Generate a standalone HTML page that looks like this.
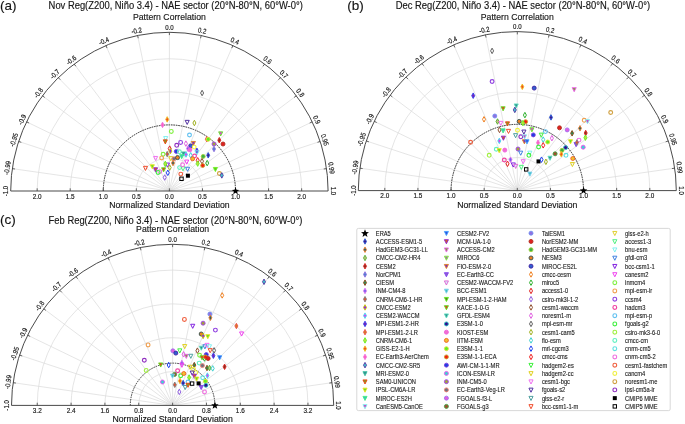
<!DOCTYPE html>
<html><head><meta charset="utf-8"><style>
html,body{margin:0;padding:0;background:#fff;}
svg{display:block;will-change:transform;}
text{font-family:"Liberation Sans", sans-serif;stroke:#222;stroke-width:0.14px;}
.lg{stroke:#333;stroke-width:0.1px;}
</style></head><body>
<svg width="685" height="424" viewBox="0 0 685 424">
<rect width="685" height="424" fill="#fff"/>
<path d="M136.34,191 A33.06,33.06 0 0 1 202.46,191" fill="none" stroke="#dadada" stroke-width="0.7"/>
<path d="M103.28,191 A66.12,66.12 0 0 1 235.53,191" fill="none" stroke="#dadada" stroke-width="0.7"/>
<path d="M70.21,191 A99.19,99.19 0 0 1 268.59,191" fill="none" stroke="#dadada" stroke-width="0.7"/>
<path d="M37.15,191 A132.25,132.25 0 0 1 301.65,191" fill="none" stroke="#dadada" stroke-width="0.7"/>
<line x1="169.4" y1="191" x2="12.29" y2="168.61" stroke="#dadada" stroke-width="0.7"/>
<line x1="169.4" y1="191" x2="18.64" y2="141.45" stroke="#dadada" stroke-width="0.7"/>
<line x1="169.4" y1="191" x2="26.57" y2="121.82" stroke="#dadada" stroke-width="0.7"/>
<line x1="169.4" y1="191" x2="42.44" y2="95.78" stroke="#dadada" stroke-width="0.7"/>
<line x1="169.4" y1="191" x2="58.31" y2="77.67" stroke="#dadada" stroke-width="0.7"/>
<line x1="169.4" y1="191" x2="74.18" y2="64.04" stroke="#dadada" stroke-width="0.7"/>
<line x1="169.4" y1="191" x2="105.92" y2="45.55" stroke="#dadada" stroke-width="0.7"/>
<line x1="169.4" y1="191" x2="137.66" y2="35.51" stroke="#dadada" stroke-width="0.7"/>
<line x1="169.4" y1="191" x2="169.40" y2="32.30" stroke="#dadada" stroke-width="0.7"/>
<line x1="169.4" y1="191" x2="201.14" y2="35.51" stroke="#dadada" stroke-width="0.7"/>
<line x1="169.4" y1="191" x2="232.88" y2="45.55" stroke="#dadada" stroke-width="0.7"/>
<line x1="169.4" y1="191" x2="264.62" y2="64.04" stroke="#dadada" stroke-width="0.7"/>
<line x1="169.4" y1="191" x2="280.49" y2="77.67" stroke="#dadada" stroke-width="0.7"/>
<line x1="169.4" y1="191" x2="296.36" y2="95.78" stroke="#dadada" stroke-width="0.7"/>
<line x1="169.4" y1="191" x2="312.23" y2="121.82" stroke="#dadada" stroke-width="0.7"/>
<line x1="169.4" y1="191" x2="320.16" y2="141.45" stroke="#dadada" stroke-width="0.7"/>
<line x1="169.4" y1="191" x2="326.51" y2="168.61" stroke="#dadada" stroke-width="0.7"/>
<path d="M103.28,191 A66.12,66.12 0 0 1 235.53,191" fill="none" stroke="#2a2a2a" stroke-width="0.95" stroke-dasharray="1.5,0.95"/>
<path d="M10.70,191 A158.70,158.70 0 0 1 328.10,191 Z" fill="none" stroke="#404040" stroke-width="0.95"/>
<line x1="12.29" y1="168.61" x2="15.06" y2="169.01" stroke="#404040" stroke-width="0.8"/>
<line x1="18.64" y1="141.45" x2="21.30" y2="142.32" stroke="#404040" stroke-width="0.8"/>
<line x1="26.57" y1="121.82" x2="29.09" y2="123.04" stroke="#404040" stroke-width="0.8"/>
<line x1="42.44" y1="95.78" x2="44.68" y2="97.46" stroke="#404040" stroke-width="0.8"/>
<line x1="58.31" y1="77.67" x2="60.27" y2="79.67" stroke="#404040" stroke-width="0.8"/>
<line x1="74.18" y1="64.04" x2="75.86" y2="66.28" stroke="#404040" stroke-width="0.8"/>
<line x1="105.92" y1="45.55" x2="107.04" y2="48.12" stroke="#404040" stroke-width="0.8"/>
<line x1="137.66" y1="35.51" x2="138.22" y2="38.25" stroke="#404040" stroke-width="0.8"/>
<line x1="169.40" y1="32.30" x2="169.40" y2="35.10" stroke="#404040" stroke-width="0.8"/>
<line x1="201.14" y1="35.51" x2="200.58" y2="38.25" stroke="#404040" stroke-width="0.8"/>
<line x1="232.88" y1="45.55" x2="231.76" y2="48.12" stroke="#404040" stroke-width="0.8"/>
<line x1="264.62" y1="64.04" x2="262.94" y2="66.28" stroke="#404040" stroke-width="0.8"/>
<line x1="280.49" y1="77.67" x2="278.53" y2="79.67" stroke="#404040" stroke-width="0.8"/>
<line x1="296.36" y1="95.78" x2="294.12" y2="97.46" stroke="#404040" stroke-width="0.8"/>
<line x1="312.23" y1="121.82" x2="309.71" y2="123.04" stroke="#404040" stroke-width="0.8"/>
<line x1="320.16" y1="141.45" x2="317.50" y2="142.32" stroke="#404040" stroke-width="0.8"/>
<line x1="326.51" y1="168.61" x2="323.74" y2="169.01" stroke="#404040" stroke-width="0.8"/>
<text transform="translate(5.50,191.00) rotate(-90.00) scale(1,1.15)" text-anchor="middle" font-size="6.1" fill="#111" dominant-baseline="central">-1.0</text>
<text transform="translate(7.14,167.88) rotate(-81.89) scale(1,1.15)" text-anchor="middle" font-size="6.1" fill="#111" dominant-baseline="central">-0.99</text>
<text transform="translate(13.70,139.82) rotate(-71.81) scale(1,1.15)" text-anchor="middle" font-size="6.1" fill="#111" dominant-baseline="central">-0.95</text>
<text transform="translate(21.89,119.56) rotate(-64.16) scale(1,1.15)" text-anchor="middle" font-size="6.1" fill="#111" dominant-baseline="central">-0.9</text>
<text transform="translate(38.28,92.66) rotate(-53.13) scale(1,1.15)" text-anchor="middle" font-size="6.1" fill="#111" dominant-baseline="central">-0.8</text>
<text transform="translate(54.67,73.95) rotate(-44.43) scale(1,1.15)" text-anchor="middle" font-size="6.1" fill="#111" dominant-baseline="central">-0.7</text>
<text transform="translate(71.06,59.88) rotate(-36.87) scale(1,1.15)" text-anchor="middle" font-size="6.1" fill="#111" dominant-baseline="central">-0.6</text>
<text transform="translate(103.84,40.78) rotate(-23.58) scale(1,1.15)" text-anchor="middle" font-size="6.1" fill="#111" dominant-baseline="central">-0.4</text>
<text transform="translate(136.62,30.41) rotate(-11.54) scale(1,1.15)" text-anchor="middle" font-size="6.1" fill="#111" dominant-baseline="central">-0.2</text>
<text transform="translate(169.40,27.10) scale(1,1.15)" text-anchor="middle" font-size="6.1" fill="#111" dominant-baseline="central">0.0</text>
<text transform="translate(202.18,30.41) rotate(11.54) scale(1,1.15)" text-anchor="middle" font-size="6.1" fill="#111" dominant-baseline="central">0.2</text>
<text transform="translate(234.96,40.78) rotate(23.58) scale(1,1.15)" text-anchor="middle" font-size="6.1" fill="#111" dominant-baseline="central">0.4</text>
<text transform="translate(267.74,59.88) rotate(36.87) scale(1,1.15)" text-anchor="middle" font-size="6.1" fill="#111" dominant-baseline="central">0.6</text>
<text transform="translate(284.13,73.95) rotate(44.43) scale(1,1.15)" text-anchor="middle" font-size="6.1" fill="#111" dominant-baseline="central">0.7</text>
<text transform="translate(300.52,92.66) rotate(53.13) scale(1,1.15)" text-anchor="middle" font-size="6.1" fill="#111" dominant-baseline="central">0.8</text>
<text transform="translate(316.91,119.56) rotate(64.16) scale(1,1.15)" text-anchor="middle" font-size="6.1" fill="#111" dominant-baseline="central">0.9</text>
<text transform="translate(325.11,139.82) rotate(71.81) scale(1,1.15)" text-anchor="middle" font-size="6.1" fill="#111" dominant-baseline="central">0.95</text>
<text transform="translate(331.66,167.88) rotate(81.89) scale(1,1.15)" text-anchor="middle" font-size="6.1" fill="#111" dominant-baseline="central">0.99</text>
<text transform="translate(333.30,191.00) rotate(90.00) scale(1,1.15)" text-anchor="middle" font-size="6.1" fill="#111" dominant-baseline="central">1.0</text>
<line x1="37.15" y1="191" x2="37.15" y2="188.3" stroke="#404040" stroke-width="0.8"/>
<text transform="translate(37.15,198.80) scale(1,1.17)" text-anchor="middle" font-size="6.4" fill="#111">2.0</text>
<line x1="70.21" y1="191" x2="70.21" y2="188.3" stroke="#404040" stroke-width="0.8"/>
<text transform="translate(70.21,198.80) scale(1,1.17)" text-anchor="middle" font-size="6.4" fill="#111">1.5</text>
<line x1="103.28" y1="191" x2="103.28" y2="188.3" stroke="#404040" stroke-width="0.8"/>
<text transform="translate(103.28,198.80) scale(1,1.17)" text-anchor="middle" font-size="6.4" fill="#111">1.0</text>
<line x1="136.34" y1="191" x2="136.34" y2="188.3" stroke="#404040" stroke-width="0.8"/>
<text transform="translate(136.34,198.80) scale(1,1.17)" text-anchor="middle" font-size="6.4" fill="#111">0.5</text>
<line x1="169.40" y1="191" x2="169.40" y2="188.3" stroke="#404040" stroke-width="0.8"/>
<text transform="translate(169.40,198.80) scale(1,1.17)" text-anchor="middle" font-size="6.4" fill="#111">0.0</text>
<line x1="202.46" y1="191" x2="202.46" y2="188.3" stroke="#404040" stroke-width="0.8"/>
<text transform="translate(202.46,198.80) scale(1,1.17)" text-anchor="middle" font-size="6.4" fill="#111">0.5</text>
<line x1="235.53" y1="191" x2="235.53" y2="188.3" stroke="#404040" stroke-width="0.8"/>
<text transform="translate(235.53,198.80) scale(1,1.17)" text-anchor="middle" font-size="6.4" fill="#111">1.0</text>
<line x1="268.59" y1="191" x2="268.59" y2="188.3" stroke="#404040" stroke-width="0.8"/>
<text transform="translate(268.59,198.80) scale(1,1.17)" text-anchor="middle" font-size="6.4" fill="#111">1.5</text>
<line x1="301.65" y1="191" x2="301.65" y2="188.3" stroke="#404040" stroke-width="0.8"/>
<text transform="translate(301.65,198.80) scale(1,1.17)" text-anchor="middle" font-size="6.4" fill="#111">2.0</text>
<polygon points="235.53,187.15 236.50,189.76 239.28,189.88 237.10,191.61 237.85,194.30 235.53,192.76 233.20,194.30 233.95,191.61 231.77,189.88 234.55,189.76" fill="#000"/>
<text transform="translate(169.40,208.20) scale(1,1.08)" text-anchor="middle" font-size="8.7" fill="#111">Normalized Standard Deviation</text>
<text transform="translate(169.40,20.00) scale(1,1.08)" text-anchor="middle" font-size="8.7" fill="#111">Pattern Correlation</text>
<text transform="translate(48.60,9.30) scale(1,1.07)" font-size="9.4" fill="#111">Nov Reg(Z200, Niño 3.4) - NAE sector (20°N-80°N, 60°W-0°)</text>
<text transform="translate(0.00,10.40)" font-size="13.5" fill="#111">(a)</text>
<path d="M484.17,190.6 A33.12,33.12 0 0 1 550.42,190.6" fill="none" stroke="#dadada" stroke-width="0.7"/>
<path d="M451.05,190.6 A66.25,66.25 0 0 1 583.55,190.6" fill="none" stroke="#dadada" stroke-width="0.7"/>
<path d="M417.92,190.6 A99.38,99.38 0 0 1 616.67,190.6" fill="none" stroke="#dadada" stroke-width="0.7"/>
<path d="M384.80,190.6 A132.50,132.50 0 0 1 649.80,190.6" fill="none" stroke="#dadada" stroke-width="0.7"/>
<line x1="517.3" y1="190.6" x2="359.89" y2="168.17" stroke="#dadada" stroke-width="0.7"/>
<line x1="517.3" y1="190.6" x2="366.25" y2="140.95" stroke="#dadada" stroke-width="0.7"/>
<line x1="517.3" y1="190.6" x2="374.20" y2="121.29" stroke="#dadada" stroke-width="0.7"/>
<line x1="517.3" y1="190.6" x2="390.10" y2="95.20" stroke="#dadada" stroke-width="0.7"/>
<line x1="517.3" y1="190.6" x2="406.00" y2="77.05" stroke="#dadada" stroke-width="0.7"/>
<line x1="517.3" y1="190.6" x2="421.90" y2="63.40" stroke="#dadada" stroke-width="0.7"/>
<line x1="517.3" y1="190.6" x2="453.70" y2="44.87" stroke="#dadada" stroke-width="0.7"/>
<line x1="517.3" y1="190.6" x2="485.50" y2="34.81" stroke="#dadada" stroke-width="0.7"/>
<line x1="517.3" y1="190.6" x2="517.30" y2="31.60" stroke="#dadada" stroke-width="0.7"/>
<line x1="517.3" y1="190.6" x2="549.10" y2="34.81" stroke="#dadada" stroke-width="0.7"/>
<line x1="517.3" y1="190.6" x2="580.90" y2="44.87" stroke="#dadada" stroke-width="0.7"/>
<line x1="517.3" y1="190.6" x2="612.70" y2="63.40" stroke="#dadada" stroke-width="0.7"/>
<line x1="517.3" y1="190.6" x2="628.60" y2="77.05" stroke="#dadada" stroke-width="0.7"/>
<line x1="517.3" y1="190.6" x2="644.50" y2="95.20" stroke="#dadada" stroke-width="0.7"/>
<line x1="517.3" y1="190.6" x2="660.40" y2="121.29" stroke="#dadada" stroke-width="0.7"/>
<line x1="517.3" y1="190.6" x2="668.35" y2="140.95" stroke="#dadada" stroke-width="0.7"/>
<line x1="517.3" y1="190.6" x2="674.71" y2="168.17" stroke="#dadada" stroke-width="0.7"/>
<path d="M451.05,190.6 A66.25,66.25 0 0 1 583.55,190.6" fill="none" stroke="#2a2a2a" stroke-width="0.95" stroke-dasharray="1.5,0.95"/>
<path d="M358.30,190.6 A159.00,159.00 0 0 1 676.30,190.6 Z" fill="none" stroke="#404040" stroke-width="0.95"/>
<line x1="359.89" y1="168.17" x2="362.66" y2="168.57" stroke="#404040" stroke-width="0.8"/>
<line x1="366.25" y1="140.95" x2="368.91" y2="141.83" stroke="#404040" stroke-width="0.8"/>
<line x1="374.20" y1="121.29" x2="376.72" y2="122.51" stroke="#404040" stroke-width="0.8"/>
<line x1="390.10" y1="95.20" x2="392.34" y2="96.88" stroke="#404040" stroke-width="0.8"/>
<line x1="406.00" y1="77.05" x2="407.96" y2="79.05" stroke="#404040" stroke-width="0.8"/>
<line x1="421.90" y1="63.40" x2="423.58" y2="65.64" stroke="#404040" stroke-width="0.8"/>
<line x1="453.70" y1="44.87" x2="454.82" y2="47.44" stroke="#404040" stroke-width="0.8"/>
<line x1="485.50" y1="34.81" x2="486.06" y2="37.56" stroke="#404040" stroke-width="0.8"/>
<line x1="517.30" y1="31.60" x2="517.30" y2="34.40" stroke="#404040" stroke-width="0.8"/>
<line x1="549.10" y1="34.81" x2="548.54" y2="37.56" stroke="#404040" stroke-width="0.8"/>
<line x1="580.90" y1="44.87" x2="579.78" y2="47.44" stroke="#404040" stroke-width="0.8"/>
<line x1="612.70" y1="63.40" x2="611.02" y2="65.64" stroke="#404040" stroke-width="0.8"/>
<line x1="628.60" y1="77.05" x2="626.64" y2="79.05" stroke="#404040" stroke-width="0.8"/>
<line x1="644.50" y1="95.20" x2="642.26" y2="96.88" stroke="#404040" stroke-width="0.8"/>
<line x1="660.40" y1="121.29" x2="657.88" y2="122.51" stroke="#404040" stroke-width="0.8"/>
<line x1="668.35" y1="140.95" x2="665.69" y2="141.83" stroke="#404040" stroke-width="0.8"/>
<line x1="674.71" y1="168.17" x2="671.94" y2="168.57" stroke="#404040" stroke-width="0.8"/>
<text transform="translate(353.10,190.60) rotate(-90.00) scale(1,1.15)" text-anchor="middle" font-size="6.1" fill="#111" dominant-baseline="central">-1.0</text>
<text transform="translate(354.74,167.44) rotate(-81.89) scale(1,1.15)" text-anchor="middle" font-size="6.1" fill="#111" dominant-baseline="central">-0.99</text>
<text transform="translate(361.31,139.33) rotate(-71.81) scale(1,1.15)" text-anchor="middle" font-size="6.1" fill="#111" dominant-baseline="central">-0.95</text>
<text transform="translate(369.52,119.03) rotate(-64.16) scale(1,1.15)" text-anchor="middle" font-size="6.1" fill="#111" dominant-baseline="central">-0.9</text>
<text transform="translate(385.94,92.08) rotate(-53.13) scale(1,1.15)" text-anchor="middle" font-size="6.1" fill="#111" dominant-baseline="central">-0.8</text>
<text transform="translate(402.36,73.34) rotate(-44.43) scale(1,1.15)" text-anchor="middle" font-size="6.1" fill="#111" dominant-baseline="central">-0.7</text>
<text transform="translate(418.78,59.24) rotate(-36.87) scale(1,1.15)" text-anchor="middle" font-size="6.1" fill="#111" dominant-baseline="central">-0.6</text>
<text transform="translate(451.62,40.11) rotate(-23.58) scale(1,1.15)" text-anchor="middle" font-size="6.1" fill="#111" dominant-baseline="central">-0.4</text>
<text transform="translate(484.46,29.72) rotate(-11.54) scale(1,1.15)" text-anchor="middle" font-size="6.1" fill="#111" dominant-baseline="central">-0.2</text>
<text transform="translate(517.30,26.40) scale(1,1.15)" text-anchor="middle" font-size="6.1" fill="#111" dominant-baseline="central">0.0</text>
<text transform="translate(550.14,29.72) rotate(11.54) scale(1,1.15)" text-anchor="middle" font-size="6.1" fill="#111" dominant-baseline="central">0.2</text>
<text transform="translate(582.98,40.11) rotate(23.58) scale(1,1.15)" text-anchor="middle" font-size="6.1" fill="#111" dominant-baseline="central">0.4</text>
<text transform="translate(615.82,59.24) rotate(36.87) scale(1,1.15)" text-anchor="middle" font-size="6.1" fill="#111" dominant-baseline="central">0.6</text>
<text transform="translate(632.24,73.34) rotate(44.43) scale(1,1.15)" text-anchor="middle" font-size="6.1" fill="#111" dominant-baseline="central">0.7</text>
<text transform="translate(648.66,92.08) rotate(53.13) scale(1,1.15)" text-anchor="middle" font-size="6.1" fill="#111" dominant-baseline="central">0.8</text>
<text transform="translate(665.08,119.03) rotate(64.16) scale(1,1.15)" text-anchor="middle" font-size="6.1" fill="#111" dominant-baseline="central">0.9</text>
<text transform="translate(673.29,139.33) rotate(71.81) scale(1,1.15)" text-anchor="middle" font-size="6.1" fill="#111" dominant-baseline="central">0.95</text>
<text transform="translate(679.86,167.44) rotate(81.89) scale(1,1.15)" text-anchor="middle" font-size="6.1" fill="#111" dominant-baseline="central">0.99</text>
<text transform="translate(681.50,190.60) rotate(90.00) scale(1,1.15)" text-anchor="middle" font-size="6.1" fill="#111" dominant-baseline="central">1.0</text>
<line x1="384.80" y1="190.6" x2="384.80" y2="187.9" stroke="#404040" stroke-width="0.8"/>
<text transform="translate(384.80,198.40) scale(1,1.17)" text-anchor="middle" font-size="6.4" fill="#111">2.0</text>
<line x1="417.92" y1="190.6" x2="417.92" y2="187.9" stroke="#404040" stroke-width="0.8"/>
<text transform="translate(417.92,198.40) scale(1,1.17)" text-anchor="middle" font-size="6.4" fill="#111">1.5</text>
<line x1="451.05" y1="190.6" x2="451.05" y2="187.9" stroke="#404040" stroke-width="0.8"/>
<text transform="translate(451.05,198.40) scale(1,1.17)" text-anchor="middle" font-size="6.4" fill="#111">1.0</text>
<line x1="484.17" y1="190.6" x2="484.17" y2="187.9" stroke="#404040" stroke-width="0.8"/>
<text transform="translate(484.17,198.40) scale(1,1.17)" text-anchor="middle" font-size="6.4" fill="#111">0.5</text>
<line x1="517.30" y1="190.6" x2="517.30" y2="187.9" stroke="#404040" stroke-width="0.8"/>
<text transform="translate(517.30,198.40) scale(1,1.17)" text-anchor="middle" font-size="6.4" fill="#111">0.0</text>
<line x1="550.42" y1="190.6" x2="550.42" y2="187.9" stroke="#404040" stroke-width="0.8"/>
<text transform="translate(550.42,198.40) scale(1,1.17)" text-anchor="middle" font-size="6.4" fill="#111">0.5</text>
<line x1="583.55" y1="190.6" x2="583.55" y2="187.9" stroke="#404040" stroke-width="0.8"/>
<text transform="translate(583.55,198.40) scale(1,1.17)" text-anchor="middle" font-size="6.4" fill="#111">1.0</text>
<line x1="616.67" y1="190.6" x2="616.67" y2="187.9" stroke="#404040" stroke-width="0.8"/>
<text transform="translate(616.67,198.40) scale(1,1.17)" text-anchor="middle" font-size="6.4" fill="#111">1.5</text>
<line x1="649.80" y1="190.6" x2="649.80" y2="187.9" stroke="#404040" stroke-width="0.8"/>
<text transform="translate(649.80,198.40) scale(1,1.17)" text-anchor="middle" font-size="6.4" fill="#111">2.0</text>
<polygon points="583.55,186.75 584.53,189.36 587.31,189.48 585.13,191.21 585.87,193.90 583.55,192.36 581.23,193.90 581.97,191.21 579.79,189.48 582.57,189.36" fill="#000"/>
<text transform="translate(517.30,208.20) scale(1,1.08)" text-anchor="middle" font-size="8.7" fill="#111">Normalized Standard Deviation</text>
<text transform="translate(517.30,20.00) scale(1,1.08)" text-anchor="middle" font-size="8.7" fill="#111">Pattern Correlation</text>
<text transform="translate(395.80,9.30) scale(1,1.07)" font-size="9.4" fill="#111">Dec Reg(Z200, Niño 3.4) - NAE sector (20°N-80°N, 60°W-0°)</text>
<text transform="translate(347.20,10.40)" font-size="13.5" fill="#111">(b)</text>
<path d="M138.76,405.4 A33.84,33.84 0 0 1 206.44,405.4" fill="none" stroke="#dadada" stroke-width="0.7"/>
<path d="M104.92,405.4 A67.68,67.68 0 0 1 240.28,405.4" fill="none" stroke="#dadada" stroke-width="0.7"/>
<path d="M71.08,405.4 A101.52,101.52 0 0 1 274.12,405.4" fill="none" stroke="#dadada" stroke-width="0.7"/>
<path d="M37.24,405.4 A135.36,135.36 0 0 1 307.96,405.4" fill="none" stroke="#dadada" stroke-width="0.7"/>
<line x1="172.6" y1="405.4" x2="13.11" y2="382.67" stroke="#dadada" stroke-width="0.7"/>
<line x1="172.6" y1="405.4" x2="19.56" y2="355.10" stroke="#dadada" stroke-width="0.7"/>
<line x1="172.6" y1="405.4" x2="27.61" y2="335.18" stroke="#dadada" stroke-width="0.7"/>
<line x1="172.6" y1="405.4" x2="43.72" y2="308.74" stroke="#dadada" stroke-width="0.7"/>
<line x1="172.6" y1="405.4" x2="59.83" y2="290.35" stroke="#dadada" stroke-width="0.7"/>
<line x1="172.6" y1="405.4" x2="75.94" y2="276.52" stroke="#dadada" stroke-width="0.7"/>
<line x1="172.6" y1="405.4" x2="108.16" y2="257.75" stroke="#dadada" stroke-width="0.7"/>
<line x1="172.6" y1="405.4" x2="140.38" y2="247.55" stroke="#dadada" stroke-width="0.7"/>
<line x1="172.6" y1="405.4" x2="172.60" y2="244.30" stroke="#dadada" stroke-width="0.7"/>
<line x1="172.6" y1="405.4" x2="204.82" y2="247.55" stroke="#dadada" stroke-width="0.7"/>
<line x1="172.6" y1="405.4" x2="237.04" y2="257.75" stroke="#dadada" stroke-width="0.7"/>
<line x1="172.6" y1="405.4" x2="269.26" y2="276.52" stroke="#dadada" stroke-width="0.7"/>
<line x1="172.6" y1="405.4" x2="285.37" y2="290.35" stroke="#dadada" stroke-width="0.7"/>
<line x1="172.6" y1="405.4" x2="301.48" y2="308.74" stroke="#dadada" stroke-width="0.7"/>
<line x1="172.6" y1="405.4" x2="317.59" y2="335.18" stroke="#dadada" stroke-width="0.7"/>
<line x1="172.6" y1="405.4" x2="325.64" y2="355.10" stroke="#dadada" stroke-width="0.7"/>
<line x1="172.6" y1="405.4" x2="332.09" y2="382.67" stroke="#dadada" stroke-width="0.7"/>
<path d="M130.30,405.4 A42.30,42.30 0 0 1 214.90,405.4" fill="none" stroke="#2a2a2a" stroke-width="0.95" stroke-dasharray="1.5,0.95"/>
<path d="M11.50,405.4 A161.10,161.10 0 0 1 333.70,405.4 Z" fill="none" stroke="#404040" stroke-width="0.95"/>
<line x1="13.11" y1="382.67" x2="15.88" y2="383.07" stroke="#404040" stroke-width="0.8"/>
<line x1="19.56" y1="355.10" x2="22.22" y2="355.97" stroke="#404040" stroke-width="0.8"/>
<line x1="27.61" y1="335.18" x2="30.13" y2="336.40" stroke="#404040" stroke-width="0.8"/>
<line x1="43.72" y1="308.74" x2="45.96" y2="310.42" stroke="#404040" stroke-width="0.8"/>
<line x1="59.83" y1="290.35" x2="61.79" y2="292.35" stroke="#404040" stroke-width="0.8"/>
<line x1="75.94" y1="276.52" x2="77.62" y2="278.76" stroke="#404040" stroke-width="0.8"/>
<line x1="108.16" y1="257.75" x2="109.28" y2="260.32" stroke="#404040" stroke-width="0.8"/>
<line x1="140.38" y1="247.55" x2="140.94" y2="250.30" stroke="#404040" stroke-width="0.8"/>
<line x1="172.60" y1="244.30" x2="172.60" y2="247.10" stroke="#404040" stroke-width="0.8"/>
<line x1="204.82" y1="247.55" x2="204.26" y2="250.30" stroke="#404040" stroke-width="0.8"/>
<line x1="237.04" y1="257.75" x2="235.92" y2="260.32" stroke="#404040" stroke-width="0.8"/>
<line x1="269.26" y1="276.52" x2="267.58" y2="278.76" stroke="#404040" stroke-width="0.8"/>
<line x1="285.37" y1="290.35" x2="283.41" y2="292.35" stroke="#404040" stroke-width="0.8"/>
<line x1="301.48" y1="308.74" x2="299.24" y2="310.42" stroke="#404040" stroke-width="0.8"/>
<line x1="317.59" y1="335.18" x2="315.07" y2="336.40" stroke="#404040" stroke-width="0.8"/>
<line x1="325.64" y1="355.10" x2="322.99" y2="355.97" stroke="#404040" stroke-width="0.8"/>
<line x1="332.09" y1="382.67" x2="329.32" y2="383.07" stroke="#404040" stroke-width="0.8"/>
<text transform="translate(6.30,405.40) rotate(-90.00) scale(1,1.15)" text-anchor="middle" font-size="6.1" fill="#111" dominant-baseline="central">-1.0</text>
<text transform="translate(7.96,381.94) rotate(-81.89) scale(1,1.15)" text-anchor="middle" font-size="6.1" fill="#111" dominant-baseline="central">-0.99</text>
<text transform="translate(14.62,353.47) rotate(-71.81) scale(1,1.15)" text-anchor="middle" font-size="6.1" fill="#111" dominant-baseline="central">-0.95</text>
<text transform="translate(22.93,332.91) rotate(-64.16) scale(1,1.15)" text-anchor="middle" font-size="6.1" fill="#111" dominant-baseline="central">-0.9</text>
<text transform="translate(39.56,305.62) rotate(-53.13) scale(1,1.15)" text-anchor="middle" font-size="6.1" fill="#111" dominant-baseline="central">-0.8</text>
<text transform="translate(56.19,286.64) rotate(-44.43) scale(1,1.15)" text-anchor="middle" font-size="6.1" fill="#111" dominant-baseline="central">-0.7</text>
<text transform="translate(72.82,272.36) rotate(-36.87) scale(1,1.15)" text-anchor="middle" font-size="6.1" fill="#111" dominant-baseline="central">-0.6</text>
<text transform="translate(106.08,252.98) rotate(-23.58) scale(1,1.15)" text-anchor="middle" font-size="6.1" fill="#111" dominant-baseline="central">-0.4</text>
<text transform="translate(139.34,242.46) rotate(-11.54) scale(1,1.15)" text-anchor="middle" font-size="6.1" fill="#111" dominant-baseline="central">-0.2</text>
<text transform="translate(172.60,239.10) scale(1,1.15)" text-anchor="middle" font-size="6.1" fill="#111" dominant-baseline="central">0.0</text>
<text transform="translate(205.86,242.46) rotate(11.54) scale(1,1.15)" text-anchor="middle" font-size="6.1" fill="#111" dominant-baseline="central">0.2</text>
<text transform="translate(239.12,252.98) rotate(23.58) scale(1,1.15)" text-anchor="middle" font-size="6.1" fill="#111" dominant-baseline="central">0.4</text>
<text transform="translate(272.38,272.36) rotate(36.87) scale(1,1.15)" text-anchor="middle" font-size="6.1" fill="#111" dominant-baseline="central">0.6</text>
<text transform="translate(289.01,286.64) rotate(44.43) scale(1,1.15)" text-anchor="middle" font-size="6.1" fill="#111" dominant-baseline="central">0.7</text>
<text transform="translate(305.64,305.62) rotate(53.13) scale(1,1.15)" text-anchor="middle" font-size="6.1" fill="#111" dominant-baseline="central">0.8</text>
<text transform="translate(322.27,332.91) rotate(64.16) scale(1,1.15)" text-anchor="middle" font-size="6.1" fill="#111" dominant-baseline="central">0.9</text>
<text transform="translate(330.58,353.47) rotate(71.81) scale(1,1.15)" text-anchor="middle" font-size="6.1" fill="#111" dominant-baseline="central">0.95</text>
<text transform="translate(337.24,381.94) rotate(81.89) scale(1,1.15)" text-anchor="middle" font-size="6.1" fill="#111" dominant-baseline="central">0.99</text>
<text transform="translate(338.90,405.40) rotate(90.00) scale(1,1.15)" text-anchor="middle" font-size="6.1" fill="#111" dominant-baseline="central">1.0</text>
<line x1="37.24" y1="405.4" x2="37.24" y2="402.7" stroke="#404040" stroke-width="0.8"/>
<text transform="translate(37.24,413.20) scale(1,1.17)" text-anchor="middle" font-size="6.4" fill="#111">3.2</text>
<line x1="71.08" y1="405.4" x2="71.08" y2="402.7" stroke="#404040" stroke-width="0.8"/>
<text transform="translate(71.08,413.20) scale(1,1.17)" text-anchor="middle" font-size="6.4" fill="#111">2.4</text>
<line x1="104.92" y1="405.4" x2="104.92" y2="402.7" stroke="#404040" stroke-width="0.8"/>
<text transform="translate(104.92,413.20) scale(1,1.17)" text-anchor="middle" font-size="6.4" fill="#111">1.6</text>
<line x1="138.76" y1="405.4" x2="138.76" y2="402.7" stroke="#404040" stroke-width="0.8"/>
<text transform="translate(138.76,413.20) scale(1,1.17)" text-anchor="middle" font-size="6.4" fill="#111">0.8</text>
<line x1="172.60" y1="405.4" x2="172.60" y2="402.7" stroke="#404040" stroke-width="0.8"/>
<text transform="translate(172.60,413.20) scale(1,1.17)" text-anchor="middle" font-size="6.4" fill="#111">0.0</text>
<line x1="206.44" y1="405.4" x2="206.44" y2="402.7" stroke="#404040" stroke-width="0.8"/>
<text transform="translate(206.44,413.20) scale(1,1.17)" text-anchor="middle" font-size="6.4" fill="#111">0.8</text>
<line x1="240.28" y1="405.4" x2="240.28" y2="402.7" stroke="#404040" stroke-width="0.8"/>
<text transform="translate(240.28,413.20) scale(1,1.17)" text-anchor="middle" font-size="6.4" fill="#111">1.6</text>
<line x1="274.12" y1="405.4" x2="274.12" y2="402.7" stroke="#404040" stroke-width="0.8"/>
<text transform="translate(274.12,413.20) scale(1,1.17)" text-anchor="middle" font-size="6.4" fill="#111">2.4</text>
<line x1="307.96" y1="405.4" x2="307.96" y2="402.7" stroke="#404040" stroke-width="0.8"/>
<text transform="translate(307.96,413.20) scale(1,1.17)" text-anchor="middle" font-size="6.4" fill="#111">3.2</text>
<polygon points="214.90,401.55 215.88,404.16 218.66,404.28 216.48,406.01 217.22,408.70 214.90,407.16 212.58,408.70 213.32,406.01 211.14,404.28 213.92,404.16" fill="#000"/>
<text transform="translate(172.60,422.40) scale(1,1.08)" text-anchor="middle" font-size="8.7" fill="#111">Normalized Standard Deviation</text>
<text transform="translate(172.60,232.20) scale(1,1.08)" text-anchor="middle" font-size="8.7" fill="#111">Pattern Correlation</text>
<text transform="translate(48.60,223.60) scale(1,1.07)" font-size="9.4" fill="#111">Feb Reg(Z200, Niño 3.4) - NAE sector (20°N-80°N, 60°W-0°)</text>
<text transform="translate(0.00,224.20)" font-size="13.5" fill="#111">(c)</text>
<rect x="356.8" y="228.4" width="313.4" height="182.2" rx="1.5" fill="#fff" stroke="#d4d4d4" stroke-width="0.9"/>
<polygon points="365.00,229.30 366.04,232.07 368.99,232.20 366.68,234.05 367.47,236.90 365.00,235.26 362.53,236.90 363.32,234.05 361.01,232.20 363.96,232.07" fill="#000"/>
<text transform="translate(375.80,235.60) scale(1,1.16)" class="lg" font-size="5.75" fill="#111">ERA5</text>
<polygon points="365.00,238.70 366.50,241.45 365.00,244.20 363.50,241.45" fill="#3b1a8c" stroke="#2a5ad7" stroke-width="0.9"/>
<text transform="translate(375.80,243.85) scale(1,1.16)" class="lg" font-size="5.75" fill="#111">ACCESS-ESM1-5</text>
<polygon points="365.00,246.94 366.50,249.69 365.00,252.44 363.50,249.69" fill="#2f6060" stroke="#f08030" stroke-width="0.9"/>
<text transform="translate(375.80,252.09) scale(1,1.16)" class="lg" font-size="5.75" fill="#111">HadGEM3-GC31-LL</text>
<polygon points="365.00,255.19 366.50,257.94 365.00,260.69 363.50,257.94" fill="#c8c080" stroke="#50b030" stroke-width="0.9"/>
<text transform="translate(375.80,260.34) scale(1,1.16)" class="lg" font-size="5.75" fill="#111">CMCC-CM2-HR4</text>
<polygon points="365.00,263.44 366.50,266.19 365.00,268.94 363.50,266.19" fill="#8b3020" stroke="#e02020" stroke-width="0.9"/>
<text transform="translate(375.80,268.59) scale(1,1.16)" class="lg" font-size="5.75" fill="#111">CESM2</text>
<polygon points="365.00,271.69 366.50,274.44 365.00,277.19 363.50,274.44" fill="#5080d0" stroke="#9070e0" stroke-width="0.9"/>
<text transform="translate(375.80,276.83) scale(1,1.16)" class="lg" font-size="5.75" fill="#111">NorCPM1</text>
<polygon points="365.00,279.93 366.50,282.68 365.00,285.43 363.50,282.68" fill="#2e8b57" stroke="#8b4513" stroke-width="0.9"/>
<text transform="translate(375.80,285.08) scale(1,1.16)" class="lg" font-size="5.75" fill="#111">CIESM</text>
<polygon points="365.00,288.18 366.50,290.93 365.00,293.68 363.50,290.93" fill="#7060f0" stroke="#e070f0" stroke-width="0.9"/>
<text transform="translate(375.80,293.33) scale(1,1.16)" class="lg" font-size="5.75" fill="#111">INM-CM4-8</text>
<polygon points="365.00,296.43 366.50,299.18 365.00,301.93 363.50,299.18" fill="#e05030" stroke="#808080" stroke-width="0.9"/>
<text transform="translate(375.80,301.58) scale(1,1.16)" class="lg" font-size="5.75" fill="#111">CNRM-CM6-1-HR</text>
<polygon points="365.00,304.67 366.50,307.42 365.00,310.17 363.50,307.42" fill="#9020f0" stroke="#c8c800" stroke-width="0.9"/>
<text transform="translate(375.80,309.82) scale(1,1.16)" class="lg" font-size="5.75" fill="#111">CMCC-ESM2</text>
<polygon points="365.00,312.92 366.50,315.67 365.00,318.42 363.50,315.67" fill="#e040f0" stroke="#40e0f0" stroke-width="0.9"/>
<text transform="translate(375.80,318.07) scale(1,1.16)" class="lg" font-size="5.75" fill="#111">CESM2-WACCM</text>
<polygon points="365.00,321.17 366.50,323.92 365.00,326.67 363.50,323.92" fill="#8020b0" stroke="#3040f0" stroke-width="0.9"/>
<text transform="translate(375.80,326.32) scale(1,1.16)" class="lg" font-size="5.75" fill="#111">MPI-ESM1-2-HR</text>
<polygon points="365.00,329.41 366.50,332.16 365.00,334.91 363.50,332.16" fill="#d08020" stroke="#f05050" stroke-width="0.9"/>
<text transform="translate(375.80,334.56) scale(1,1.16)" class="lg" font-size="5.75" fill="#111">MPI-ESM1-2-LR</text>
<polygon points="365.00,337.66 366.50,340.41 365.00,343.16 363.50,340.41" fill="#c0e040" stroke="#60f020" stroke-width="0.9"/>
<text transform="translate(375.80,342.81) scale(1,1.16)" class="lg" font-size="5.75" fill="#111">CNRM-CM6-1</text>
<polygon points="365.00,345.91 366.50,348.66 365.00,351.41 363.50,348.66" fill="#f05020" stroke="#f0c020" stroke-width="0.9"/>
<text transform="translate(375.80,351.06) scale(1,1.16)" class="lg" font-size="5.75" fill="#111">GISS-E2-1-H</text>
<polygon points="365.00,354.15 366.50,356.90 365.00,359.65 363.50,356.90" fill="#ff60c0" stroke="#f070e0" stroke-width="0.9"/>
<text transform="translate(375.80,359.30) scale(1,1.16)" class="lg" font-size="5.75" fill="#111">EC-Earth3-AerChem</text>
<polygon points="365.00,362.40 366.50,365.15 365.00,367.90 363.50,365.15" fill="#40d0d0" stroke="#5030a0" stroke-width="0.9"/>
<text transform="translate(375.80,367.55) scale(1,1.16)" class="lg" font-size="5.75" fill="#111">CMCC-CM2-SR5</text>
<polygon points="362.95,371.65 367.05,371.65 365.00,375.75" fill="#309090" stroke="#40c0a0" stroke-width="0.9" stroke-linejoin="round"/>
<text transform="translate(375.80,375.80) scale(1,1.16)" class="lg" font-size="5.75" fill="#111">MRI-ESM2-0</text>
<polygon points="362.95,379.90 367.05,379.90 365.00,384.00" fill="#80a020" stroke="#f04010" stroke-width="0.9" stroke-linejoin="round"/>
<text transform="translate(375.80,384.05) scale(1,1.16)" class="lg" font-size="5.75" fill="#111">SAM0-UNICON</text>
<polygon points="362.95,388.14 367.05,388.14 365.00,392.24" fill="#60e020" stroke="#f0e020" stroke-width="0.9" stroke-linejoin="round"/>
<text transform="translate(375.80,392.29) scale(1,1.16)" class="lg" font-size="5.75" fill="#111">IPSL-CM6A-LR</text>
<polygon points="362.95,396.39 367.05,396.39 365.00,400.49" fill="#40c0c0" stroke="#40f080" stroke-width="0.9" stroke-linejoin="round"/>
<text transform="translate(375.80,400.54) scale(1,1.16)" class="lg" font-size="5.75" fill="#111">MIROC-ES2H</text>
<polygon points="362.95,404.64 367.05,404.64 365.00,408.74" fill="#d040c0" stroke="#80f0f0" stroke-width="0.9" stroke-linejoin="round"/>
<text transform="translate(375.80,408.79) scale(1,1.16)" class="lg" font-size="5.75" fill="#111">CanESM5-CanOE</text>
<polygon points="444.35,231.45 448.45,231.45 446.40,235.55" fill="#3050e0" stroke="#40a0ff" stroke-width="0.9" stroke-linejoin="round"/>
<text transform="translate(457.00,235.60) scale(1,1.16)" class="lg" font-size="5.75" fill="#111">CESM2-FV2</text>
<polygon points="444.35,239.70 448.45,239.70 446.40,243.80" fill="#d06020" stroke="#9020d0" stroke-width="0.9" stroke-linejoin="round"/>
<text transform="translate(457.00,243.85) scale(1,1.16)" class="lg" font-size="5.75" fill="#111">MCM-UA-1-0</text>
<polygon points="444.35,247.94 448.45,247.94 446.40,252.04" fill="#80a040" stroke="#f060f0" stroke-width="0.9" stroke-linejoin="round"/>
<text transform="translate(457.00,252.09) scale(1,1.16)" class="lg" font-size="5.75" fill="#111">ACCESS-CM2</text>
<polygon points="444.35,256.19 448.45,256.19 446.40,260.29" fill="#a070a0" stroke="#80f040" stroke-width="0.9" stroke-linejoin="round"/>
<text transform="translate(457.00,260.34) scale(1,1.16)" class="lg" font-size="5.75" fill="#111">MIROC6</text>
<polygon points="444.35,264.44 448.45,264.44 446.40,268.54" fill="#8030c0" stroke="#e08020" stroke-width="0.9" stroke-linejoin="round"/>
<text transform="translate(457.00,268.59) scale(1,1.16)" class="lg" font-size="5.75" fill="#111">FIO-ESM-2-0</text>
<polygon points="444.35,272.69 448.45,272.69 446.40,276.79" fill="#9060d0" stroke="#8040f0" stroke-width="0.9" stroke-linejoin="round"/>
<text transform="translate(457.00,276.83) scale(1,1.16)" class="lg" font-size="5.75" fill="#111">EC-Earth3-CC</text>
<polygon points="444.35,280.93 448.45,280.93 446.40,285.03" fill="#d8ecff" stroke="#e060d0" stroke-width="0.9" stroke-linejoin="round"/>
<text transform="translate(457.00,285.08) scale(1,1.16)" class="lg" font-size="5.75" fill="#111">CESM2-WACCM-FV2</text>
<polygon points="444.35,289.18 448.45,289.18 446.40,293.28" fill="#40c0c0" stroke="#80d0f0" stroke-width="0.9" stroke-linejoin="round"/>
<text transform="translate(457.00,293.33) scale(1,1.16)" class="lg" font-size="5.75" fill="#111">BCC-ESM1</text>
<polygon points="444.35,297.43 448.45,297.43 446.40,301.53" fill="#608020" stroke="#60f020" stroke-width="0.9" stroke-linejoin="round"/>
<text transform="translate(457.00,301.58) scale(1,1.16)" class="lg" font-size="5.75" fill="#111">MPI-ESM-1-2-HAM</text>
<polygon points="444.35,305.67 448.45,305.67 446.40,309.77" fill="#e04020" stroke="#60e020" stroke-width="0.9" stroke-linejoin="round"/>
<text transform="translate(457.00,309.82) scale(1,1.16)" class="lg" font-size="5.75" fill="#111">KACE-1-0-G</text>
<polygon points="444.35,313.92 448.45,313.92 446.40,318.02" fill="#309090" stroke="#60e0c0" stroke-width="0.9" stroke-linejoin="round"/>
<text transform="translate(457.00,318.07) scale(1,1.16)" class="lg" font-size="5.75" fill="#111">GFDL-ESM4</text>
<circle cx="446.40" cy="323.92" r="2.00" fill="#301090" stroke="#30c0c0" stroke-width="0.9"/>
<text transform="translate(457.00,326.32) scale(1,1.16)" class="lg" font-size="5.75" fill="#111">E3SM-1-0</text>
<circle cx="446.40" cy="332.16" r="2.00" fill="#f070d0" stroke="#f060e0" stroke-width="0.9"/>
<text transform="translate(457.00,334.56) scale(1,1.16)" class="lg" font-size="5.75" fill="#111">KIOST-ESM</text>
<circle cx="446.40" cy="340.41" r="2.00" fill="#f0c030" stroke="#f06020" stroke-width="0.9"/>
<text transform="translate(457.00,342.81) scale(1,1.16)" class="lg" font-size="5.75" fill="#111">IITM-ESM</text>
<circle cx="446.40" cy="348.66" r="2.00" fill="#60f020" stroke="#e0e040" stroke-width="0.9"/>
<text transform="translate(457.00,351.06) scale(1,1.16)" class="lg" font-size="5.75" fill="#111">E3SM-1-1</text>
<circle cx="446.40" cy="356.90" r="2.00" fill="#f02010" stroke="#d0a030" stroke-width="0.9"/>
<text transform="translate(457.00,359.30) scale(1,1.16)" class="lg" font-size="5.75" fill="#111">E3SM-1-1-ECA</text>
<circle cx="446.40" cy="365.15" r="2.00" fill="#2040e0" stroke="#8040e0" stroke-width="0.9"/>
<text transform="translate(457.00,367.55) scale(1,1.16)" class="lg" font-size="5.75" fill="#111">AWI-CM-1-1-MR</text>
<circle cx="446.40" cy="373.40" r="2.00" fill="#40d0d0" stroke="#f050f0" stroke-width="0.9"/>
<text transform="translate(457.00,375.80) scale(1,1.16)" class="lg" font-size="5.75" fill="#111">ICON-ESM-LR</text>
<circle cx="446.40" cy="381.65" r="2.00" fill="#a0a040" stroke="#a040f0" stroke-width="0.9"/>
<text transform="translate(457.00,384.05) scale(1,1.16)" class="lg" font-size="5.75" fill="#111">INM-CM5-0</text>
<circle cx="446.40" cy="389.89" r="2.00" fill="#707080" stroke="#f08070" stroke-width="0.9"/>
<text transform="translate(457.00,392.29) scale(1,1.16)" class="lg" font-size="5.75" fill="#111">EC-Earth3-Veg-LR</text>
<circle cx="446.40" cy="398.14" r="2.00" fill="#e060e0" stroke="#a070f0" stroke-width="0.9"/>
<text transform="translate(457.00,400.54) scale(1,1.16)" class="lg" font-size="5.75" fill="#111">FGOALS-f3-L</text>
<circle cx="446.40" cy="406.39" r="2.00" fill="#a05030" stroke="#40a040" stroke-width="0.9"/>
<text transform="translate(457.00,408.79) scale(1,1.16)" class="lg" font-size="5.75" fill="#111">FGOALS-g3</text>
<circle cx="531.00" cy="233.20" r="2.00" fill="#9070e0" stroke="#7090f0" stroke-width="0.9"/>
<text transform="translate(541.90,235.60) scale(1,1.16)" class="lg" font-size="5.75" fill="#111">TaiESM1</text>
<circle cx="531.00" cy="241.45" r="2.00" fill="#e02020" stroke="#b03020" stroke-width="0.9"/>
<text transform="translate(541.90,243.85) scale(1,1.16)" class="lg" font-size="5.75" fill="#111">NorESM2-MM</text>
<circle cx="531.00" cy="249.69" r="2.00" fill="#40b040" stroke="#a0d040" stroke-width="0.9"/>
<text transform="translate(541.90,252.09) scale(1,1.16)" class="lg" font-size="5.75" fill="#111">HadGEM3-GC31-MM</text>
<circle cx="531.00" cy="257.94" r="2.00" fill="#f08020" stroke="#305050" stroke-width="0.9"/>
<text transform="translate(541.90,260.34) scale(1,1.16)" class="lg" font-size="5.75" fill="#111">NESM3</text>
<circle cx="531.00" cy="266.19" r="2.00" fill="#3060d0" stroke="#4020a0" stroke-width="0.9"/>
<text transform="translate(541.90,268.59) scale(1,1.16)" class="lg" font-size="5.75" fill="#111">MIROC-ES2L</text>
<polygon points="531.00,271.69 532.50,274.44 531.00,277.19 529.50,274.44" fill="none" stroke="#f08020" stroke-width="1.0"/>
<text transform="translate(541.90,276.83) scale(1,1.16)" class="lg" font-size="5.75" fill="#111">cmcc-cesm</text>
<polygon points="531.00,279.93 532.50,282.68 531.00,285.43 529.50,282.68" fill="none" stroke="#30b030" stroke-width="1.0"/>
<text transform="translate(541.90,285.08) scale(1,1.16)" class="lg" font-size="5.75" fill="#111">miroc5</text>
<polygon points="531.00,288.18 532.50,290.93 531.00,293.68 529.50,290.93" fill="none" stroke="#e02020" stroke-width="1.0"/>
<text transform="translate(541.90,293.33) scale(1,1.16)" class="lg" font-size="5.75" fill="#111">access1-0</text>
<polygon points="531.00,296.43 532.50,299.18 531.00,301.93 529.50,299.18" fill="none" stroke="#9060e0" stroke-width="1.0"/>
<text transform="translate(541.90,301.58) scale(1,1.16)" class="lg" font-size="5.75" fill="#111">csiro-mk3l-1-2</text>
<polygon points="531.00,304.67 532.50,307.42 531.00,310.17 529.50,307.42" fill="none" stroke="#905030" stroke-width="1.0"/>
<text transform="translate(541.90,309.82) scale(1,1.16)" class="lg" font-size="5.75" fill="#111">cesm1-waccm</text>
<polygon points="531.00,312.92 532.50,315.67 531.00,318.42 529.50,315.67" fill="none" stroke="#e060e0" stroke-width="1.0"/>
<text transform="translate(541.90,318.07) scale(1,1.16)" class="lg" font-size="5.75" fill="#111">noresm1-m</text>
<polygon points="531.00,321.17 532.50,323.92 531.00,326.67 529.50,323.92" fill="none" stroke="#606060" stroke-width="1.0"/>
<text transform="translate(541.90,326.32) scale(1,1.16)" class="lg" font-size="5.75" fill="#111">mpi-esm-mr</text>
<polygon points="531.00,329.41 532.50,332.16 531.00,334.91 529.50,332.16" fill="none" stroke="#a0b020" stroke-width="1.0"/>
<text transform="translate(541.90,334.56) scale(1,1.16)" class="lg" font-size="5.75" fill="#111">cesm1-cam5</text>
<polygon points="531.00,337.66 532.50,340.41 531.00,343.16 529.50,340.41" fill="none" stroke="#40d0d0" stroke-width="1.0"/>
<text transform="translate(541.90,342.81) scale(1,1.16)" class="lg" font-size="5.75" fill="#111">fio-esm</text>
<polygon points="531.00,345.91 532.50,348.66 531.00,351.41 529.50,348.66" fill="none" stroke="#2040f0" stroke-width="1.0"/>
<text transform="translate(541.90,351.06) scale(1,1.16)" class="lg" font-size="5.75" fill="#111">mri-cgcm3</text>
<polygon points="531.00,354.15 532.50,356.90 531.00,359.65 529.50,356.90" fill="none" stroke="#f02020" stroke-width="1.0"/>
<text transform="translate(541.90,359.30) scale(1,1.16)" class="lg" font-size="5.75" fill="#111">cmcc-cms</text>
<polygon points="528.95,363.40 533.05,363.40 531.00,367.50" fill="none" stroke="#40f040" stroke-width="1.0" stroke-linejoin="round"/>
<text transform="translate(541.90,367.55) scale(1,1.16)" class="lg" font-size="5.75" fill="#111">hadgem2-es</text>
<polygon points="528.95,371.65 533.05,371.65 531.00,375.75" fill="none" stroke="#e0d020" stroke-width="1.0" stroke-linejoin="round"/>
<text transform="translate(541.90,375.80) scale(1,1.16)" class="lg" font-size="5.75" fill="#111">hadgem2-cc</text>
<polygon points="528.95,379.90 533.05,379.90 531.00,384.00" fill="none" stroke="#f070f0" stroke-width="1.0" stroke-linejoin="round"/>
<text transform="translate(541.90,384.05) scale(1,1.16)" class="lg" font-size="5.75" fill="#111">cesm1-bgc</text>
<polygon points="528.95,388.14 533.05,388.14 531.00,392.24" fill="none" stroke="#5030a0" stroke-width="1.0" stroke-linejoin="round"/>
<text transform="translate(541.90,392.29) scale(1,1.16)" class="lg" font-size="5.75" fill="#111">fgoals-s2</text>
<polygon points="528.95,396.39 533.05,396.39 531.00,400.49" fill="none" stroke="#50a0a0" stroke-width="1.0" stroke-linejoin="round"/>
<text transform="translate(541.90,400.54) scale(1,1.16)" class="lg" font-size="5.75" fill="#111">giss-e2-r</text>
<polygon points="528.95,404.64 533.05,404.64 531.00,408.74" fill="none" stroke="#f05030" stroke-width="1.0" stroke-linejoin="round"/>
<text transform="translate(541.90,408.79) scale(1,1.16)" class="lg" font-size="5.75" fill="#111">bcc-csm1-1-m</text>
<polygon points="612.75,231.45 616.85,231.45 614.80,235.55" fill="none" stroke="#e0d030" stroke-width="1.0" stroke-linejoin="round"/>
<text transform="translate(625.10,235.60) scale(1,1.16)" class="lg" font-size="5.75" fill="#111">giss-e2-h</text>
<polygon points="612.75,239.70 616.85,239.70 614.80,243.80" fill="none" stroke="#50f080" stroke-width="1.0" stroke-linejoin="round"/>
<text transform="translate(625.10,243.85) scale(1,1.16)" class="lg" font-size="5.75" fill="#111">access1-3</text>
<polygon points="612.75,247.94 616.85,247.94 614.80,252.04" fill="none" stroke="#80f0f0" stroke-width="1.0" stroke-linejoin="round"/>
<text transform="translate(625.10,252.09) scale(1,1.16)" class="lg" font-size="5.75" fill="#111">bnu-esm</text>
<polygon points="612.75,256.19 616.85,256.19 614.80,260.29" fill="none" stroke="#4080e0" stroke-width="1.0" stroke-linejoin="round"/>
<text transform="translate(625.10,260.34) scale(1,1.16)" class="lg" font-size="5.75" fill="#111">gfdl-cm3</text>
<polygon points="612.75,264.44 616.85,264.44 614.80,268.54" fill="none" stroke="#8020e0" stroke-width="1.0" stroke-linejoin="round"/>
<text transform="translate(625.10,268.59) scale(1,1.16)" class="lg" font-size="5.75" fill="#111">bcc-csm1-1</text>
<polygon points="612.75,272.69 616.85,272.69 614.80,276.79" fill="none" stroke="#f040f0" stroke-width="1.0" stroke-linejoin="round"/>
<text transform="translate(625.10,276.83) scale(1,1.16)" class="lg" font-size="5.75" fill="#111">canesm2</text>
<circle cx="614.80" cy="282.68" r="1.90" fill="none" stroke="#80f040" stroke-width="1.15"/>
<text transform="translate(625.10,285.08) scale(1,1.16)" class="lg" font-size="5.75" fill="#111">inmcm4</text>
<circle cx="614.80" cy="290.93" r="1.90" fill="none" stroke="#f0a050" stroke-width="1.15"/>
<text transform="translate(625.10,293.33) scale(1,1.16)" class="lg" font-size="5.75" fill="#111">mpi-esm-lr</text>
<circle cx="614.80" cy="299.18" r="1.90" fill="none" stroke="#9040e0" stroke-width="1.15"/>
<text transform="translate(625.10,301.58) scale(1,1.16)" class="lg" font-size="5.75" fill="#111">ccsm4</text>
<circle cx="614.80" cy="307.42" r="1.90" fill="none" stroke="#f040a0" stroke-width="1.15"/>
<text transform="translate(625.10,309.82) scale(1,1.16)" class="lg" font-size="5.75" fill="#111">hadcm3</text>
<circle cx="614.80" cy="315.67" r="1.90" fill="none" stroke="#60c0f0" stroke-width="1.15"/>
<text transform="translate(625.10,318.07) scale(1,1.16)" class="lg" font-size="5.75" fill="#111">mpi-esm-p</text>
<circle cx="614.80" cy="323.92" r="1.90" fill="none" stroke="#40f040" stroke-width="1.15"/>
<text transform="translate(625.10,326.32) scale(1,1.16)" class="lg" font-size="5.75" fill="#111">fgoals-g2</text>
<circle cx="614.80" cy="332.16" r="1.90" fill="none" stroke="#a0f040" stroke-width="1.15"/>
<text transform="translate(625.10,334.56) scale(1,1.16)" class="lg" font-size="5.75" fill="#111">csiro-mk3-6-0</text>
<circle cx="614.80" cy="340.41" r="1.90" fill="none" stroke="#60f0c0" stroke-width="1.15"/>
<text transform="translate(625.10,342.81) scale(1,1.16)" class="lg" font-size="5.75" fill="#111">cmcc-cm</text>
<circle cx="614.80" cy="348.66" r="1.90" fill="none" stroke="#60e0e0" stroke-width="1.15"/>
<text transform="translate(625.10,351.06) scale(1,1.16)" class="lg" font-size="5.75" fill="#111">cnrm-cm5</text>
<circle cx="614.80" cy="356.90" r="1.90" fill="none" stroke="#f070e0" stroke-width="1.15"/>
<text transform="translate(625.10,359.30) scale(1,1.16)" class="lg" font-size="5.75" fill="#111">cnrm-cm5-2</text>
<circle cx="614.80" cy="365.15" r="1.90" fill="none" stroke="#f06040" stroke-width="1.15"/>
<text transform="translate(625.10,367.55) scale(1,1.16)" class="lg" font-size="5.75" fill="#111">cesm1-fastchem</text>
<circle cx="614.80" cy="373.40" r="1.90" fill="none" stroke="#f0f040" stroke-width="1.15"/>
<text transform="translate(625.10,375.80) scale(1,1.16)" class="lg" font-size="5.75" fill="#111">cancm4</text>
<circle cx="614.80" cy="381.65" r="1.90" fill="none" stroke="#d0a040" stroke-width="1.15"/>
<text transform="translate(625.10,384.05) scale(1,1.16)" class="lg" font-size="5.75" fill="#111">noresm1-me</text>
<circle cx="614.80" cy="389.89" r="1.90" fill="none" stroke="#9030c0" stroke-width="1.15"/>
<text transform="translate(625.10,392.29) scale(1,1.16)" class="lg" font-size="5.75" fill="#111">ipsl-cm5a-lr</text>
<rect x="612.80" y="396.14" width="4.00" height="4.00" fill="#000"/>
<text transform="translate(625.10,400.54) scale(1,1.16)" class="lg" font-size="5.75" fill="#111">CMIP6 MME</text>
<rect x="613.10" y="404.69" width="3.40" height="3.40" fill="none" stroke="#000" stroke-width="1"/>
<text transform="translate(625.10,408.79) scale(1,1.16)" class="lg" font-size="5.75" fill="#111">CMIP5 MME</text>
<polygon points="167.20,116.65 168.70,119.40 167.20,122.15 165.70,119.40" fill="#f05020" stroke="#f0c020" stroke-width="0.9"/>
<polygon points="162.50,122.15 164.00,124.90 162.50,127.65 161.00,124.90" fill="#ff60c0" stroke="#f070e0" stroke-width="0.9"/>
<polygon points="185.15,120.35 189.25,120.35 187.20,124.45" fill="none" stroke="#5030a0" stroke-width="1.0" stroke-linejoin="round"/>
<polygon points="194.40,120.25 195.90,123.00 194.40,125.75 192.90,123.00" fill="none" stroke="#a0b020" stroke-width="1.0"/>
<circle cx="171.30" cy="131.40" r="1.90" fill="none" stroke="#80f040" stroke-width="1.15"/>
<circle cx="189.50" cy="135.00" r="1.90" fill="none" stroke="#60c0f0" stroke-width="1.15"/>
<polygon points="163.65,136.55 167.75,136.55 165.70,140.65" fill="none" stroke="#80f0f0" stroke-width="1.0" stroke-linejoin="round"/>
<polygon points="163.25,139.85 167.35,139.85 165.30,143.95" fill="#80a020" stroke="#f04010" stroke-width="0.9" stroke-linejoin="round"/>
<circle cx="180.60" cy="142.40" r="1.90" fill="none" stroke="#9040e0" stroke-width="1.15"/>
<circle cx="176.70" cy="145.30" r="1.90" fill="none" stroke="#9030c0" stroke-width="1.15"/>
<polygon points="185.90,140.85 187.40,143.60 185.90,146.35 184.40,143.60" fill="none" stroke="#e060e0" stroke-width="1.0"/>
<polygon points="191.35,141.45 195.45,141.45 193.40,145.55" fill="#8030c0" stroke="#e08020" stroke-width="0.9" stroke-linejoin="round"/>
<circle cx="190.70" cy="145.90" r="2.00" fill="#3060d0" stroke="#4020a0" stroke-width="0.9"/>
<circle cx="194.20" cy="147.10" r="1.90" fill="none" stroke="#f0f040" stroke-width="1.15"/>
<polygon points="188.00,145.85 189.50,148.60 188.00,151.35 186.50,148.60" fill="#7060f0" stroke="#e070f0" stroke-width="0.9"/>
<circle cx="189.90" cy="149.80" r="2.00" fill="#f070d0" stroke="#f060e0" stroke-width="0.9"/>
<polygon points="196.90,148.05 198.40,150.80 196.90,153.55 195.40,150.80" fill="#8020b0" stroke="#3040f0" stroke-width="0.9"/>
<polygon points="194.85,150.85 198.95,150.85 196.90,154.95" fill="none" stroke="#80f0f0" stroke-width="1.0" stroke-linejoin="round"/>
<circle cx="176.30" cy="151.40" r="2.00" fill="#2040e0" stroke="#8040e0" stroke-width="0.9"/>
<circle cx="179.40" cy="151.80" r="1.90" fill="none" stroke="#60f0c0" stroke-width="1.15"/>
<polygon points="181.65,151.95 185.75,151.95 183.70,156.05" fill="#309090" stroke="#40c0a0" stroke-width="0.9" stroke-linejoin="round"/>
<polygon points="186.00,151.75 187.50,154.50 186.00,157.25 184.50,154.50" fill="#e040f0" stroke="#40e0f0" stroke-width="0.9"/>
<polygon points="179.65,154.65 183.75,154.65 181.70,158.75" fill="#40c0c0" stroke="#40f080" stroke-width="0.9" stroke-linejoin="round"/>
<polygon points="190.70,152.55 192.20,155.30 190.70,158.05 189.20,155.30" fill="none" stroke="#40d0d0" stroke-width="1.0"/>
<circle cx="194.60" cy="156.00" r="1.90" fill="none" stroke="#f040a0" stroke-width="1.15"/>
<circle cx="203.20" cy="156.40" r="2.00" fill="#40b040" stroke="#a0d040" stroke-width="0.9"/>
<polygon points="208.20,152.55 209.70,155.30 208.20,158.05 206.70,155.30" fill="#3b1a8c" stroke="#2a5ad7" stroke-width="0.9"/>
<polygon points="206.80,136.45 208.30,139.20 206.80,141.95 205.30,139.20" fill="#d08020" stroke="#f05050" stroke-width="0.9"/>
<circle cx="208.20" cy="139.30" r="2.00" fill="#60f020" stroke="#e0e040" stroke-width="0.9"/>
<polygon points="169.70,145.85 171.20,148.60 169.70,151.35 168.20,148.60" fill="none" stroke="#e02020" stroke-width="1.0"/>
<polygon points="170.40,148.35 171.90,151.10 170.40,153.85 168.90,151.10" fill="#9020f0" stroke="#c8c800" stroke-width="0.9"/>
<polygon points="167.20,151.35 168.70,154.10 167.20,156.85 165.70,154.10" fill="#e05030" stroke="#808080" stroke-width="0.9"/>
<polygon points="168.75,156.65 172.85,156.65 170.80,160.75" fill="none" stroke="#e0d020" stroke-width="1.0" stroke-linejoin="round"/>
<circle cx="174.00" cy="158.80" r="2.00" fill="#707080" stroke="#f08070" stroke-width="0.9"/>
<circle cx="177.50" cy="157.60" r="2.00" fill="#f08020" stroke="#305050" stroke-width="0.9"/>
<circle cx="192.60" cy="158.80" r="2.00" fill="#f0c030" stroke="#f06020" stroke-width="0.9"/>
<circle cx="214.00" cy="144.00" r="2.00" fill="#a0a040" stroke="#a040f0" stroke-width="0.9"/>
<polygon points="214.00,146.25 215.50,149.00 214.00,151.75 212.50,149.00" fill="#5080d0" stroke="#9070e0" stroke-width="0.9"/>
<polygon points="219.30,137.45 220.80,140.20 219.30,142.95 217.80,140.20" fill="#8b3020" stroke="#e02020" stroke-width="0.9"/>
<circle cx="223.00" cy="144.00" r="2.00" fill="#e02020" stroke="#b03020" stroke-width="0.9"/>
<polygon points="218.65,131.85 222.75,131.85 220.70,135.95" fill="#e040e0" stroke="#60f020" stroke-width="0.9" stroke-linejoin="round"/>
<circle cx="163.10" cy="154.20" r="1.90" fill="none" stroke="#80f040" stroke-width="1.15"/>
<polygon points="153.55,156.45 157.65,156.45 155.60,160.55" fill="none" stroke="#f070f0" stroke-width="1.0" stroke-linejoin="round"/>
<circle cx="161.70" cy="157.90" r="1.90" fill="none" stroke="#f0a050" stroke-width="1.15"/>
<polygon points="184.65,160.05 188.75,160.05 186.70,164.15" fill="none" stroke="#f040f0" stroke-width="1.0" stroke-linejoin="round"/>
<polygon points="143.45,166.35 147.55,166.35 145.50,170.45" fill="none" stroke="#f05030" stroke-width="1.0" stroke-linejoin="round"/>
<polygon points="150.25,164.75 154.35,164.75 152.30,168.85" fill="#60e020" stroke="#f0e020" stroke-width="0.9" stroke-linejoin="round"/>
<polygon points="153.55,167.75 157.65,167.75 155.60,171.85" fill="#d06020" stroke="#9020d0" stroke-width="0.9" stroke-linejoin="round"/>
<circle cx="159.80" cy="171.60" r="1.90" fill="none" stroke="#f070e0" stroke-width="1.15"/>
<circle cx="158.10" cy="172.40" r="1.90" fill="none" stroke="#40f040" stroke-width="1.15"/>
<polygon points="161.55,167.75 165.65,167.75 163.60,171.85" fill="#e04020" stroke="#60e020" stroke-width="0.9" stroke-linejoin="round"/>
<polygon points="165.35,163.05 169.45,163.05 167.40,167.15" fill="none" stroke="#8020e0" stroke-width="1.0" stroke-linejoin="round"/>
<polygon points="169.70,164.85 171.20,167.60 169.70,170.35 168.20,167.60" fill="none" stroke="#a0b020" stroke-width="1.0"/>
<polygon points="165.30,161.15 166.80,163.90 165.30,166.65 163.80,163.90" fill="#c0e040" stroke="#60f020" stroke-width="0.9"/>
<polygon points="167.80,170.05 169.30,172.80 167.80,175.55 166.30,172.80" fill="none" stroke="#2040f0" stroke-width="1.0"/>
<polygon points="164.70,174.75 166.20,177.50 164.70,180.25 163.20,177.50" fill="none" stroke="#9060e0" stroke-width="1.0"/>
<polygon points="173.00,160.25 174.50,163.00 173.00,165.75 171.50,163.00" fill="#2f6060" stroke="#f08030" stroke-width="0.9"/>
<circle cx="179.60" cy="167.60" r="1.90" fill="none" stroke="#60f0c0" stroke-width="1.15"/>
<polygon points="180.95,166.75 185.05,166.75 183.00,170.85" fill="none" stroke="#50f080" stroke-width="1.0" stroke-linejoin="round"/>
<circle cx="182.60" cy="164.80" r="1.90" fill="none" stroke="#f070e0" stroke-width="1.15"/>
<polygon points="185.55,167.25 189.65,167.25 187.60,171.35" fill="none" stroke="#4080e0" stroke-width="1.0" stroke-linejoin="round"/>
<circle cx="180.80" cy="174.10" r="1.90" fill="none" stroke="#f06040" stroke-width="1.15"/>
<rect x="179.80" y="177.10" width="3.40" height="3.40" fill="none" stroke="#000" stroke-width="1"/>
<rect x="185.90" y="173.70" width="4.00" height="4.00" fill="#000"/>
<polygon points="197.70,157.55 199.20,160.30 197.70,163.05 196.20,160.30" fill="none" stroke="#f02020" stroke-width="1.0"/>
<polygon points="202.00,158.45 203.50,161.20 202.00,163.95 200.50,161.20" fill="none" stroke="#905030" stroke-width="1.0"/>
<polygon points="207.20,160.35 208.70,163.10 207.20,165.85 205.70,163.10" fill="none" stroke="#30b030" stroke-width="1.0"/>
<polygon points="197.70,160.85 199.20,163.60 197.70,166.35 196.20,163.60" fill="#c0e040" stroke="#60f020" stroke-width="0.9"/>
<circle cx="202.70" cy="165.50" r="2.00" fill="#f02010" stroke="#d0a030" stroke-width="0.9"/>
<polygon points="213.35,167.45 217.45,167.45 215.40,171.55" fill="#58d020" stroke="#70f020" stroke-width="0.9" stroke-linejoin="round"/>
<circle cx="219.40" cy="173.50" r="1.90" fill="none" stroke="#d0a040" stroke-width="1.15"/>
<polygon points="221.80,172.65 223.30,175.40 221.80,178.15 220.30,175.40" fill="#40d0d0" stroke="#5030a0" stroke-width="0.9"/>
<polygon points="202.10,90.25 203.60,93.00 202.10,95.75 200.60,93.00" fill="none" stroke="#606060" stroke-width="1.0"/>
<polygon points="492.10,48.15 493.60,50.90 492.10,53.65 490.60,50.90" fill="none" stroke="#606060" stroke-width="1.0"/>
<circle cx="492.10" cy="81.50" r="1.90" fill="none" stroke="#9040e0" stroke-width="1.15"/>
<polygon points="522.30,84.05 523.80,86.80 522.30,89.55 520.80,86.80" fill="#f05020" stroke="#f0c020" stroke-width="0.9"/>
<circle cx="534.20" cy="88.10" r="2.00" fill="#3060d0" stroke="#4020a0" stroke-width="0.9"/>
<polygon points="572.15,87.65 576.25,87.65 574.20,91.75" fill="#80a040" stroke="#f060f0" stroke-width="0.9" stroke-linejoin="round"/>
<polygon points="473.20,92.95 474.70,95.70 473.20,98.45 471.70,95.70" fill="#8020b0" stroke="#3040f0" stroke-width="0.9"/>
<polygon points="501.05,106.75 505.15,106.75 503.10,110.85" fill="#e04020" stroke="#60e020" stroke-width="0.9" stroke-linejoin="round"/>
<polygon points="514.15,103.95 518.25,103.95 516.20,108.05" fill="#309090" stroke="#60e0c0" stroke-width="0.9" stroke-linejoin="round"/>
<polygon points="514.80,107.15 516.30,109.90 514.80,112.65 513.30,109.90" fill="#40d0d0" stroke="#5030a0" stroke-width="0.9"/>
<polygon points="524.90,112.35 526.40,115.10 524.90,117.85 523.40,115.10" fill="none" stroke="#30b030" stroke-width="1.0"/>
<circle cx="494.80" cy="116.00" r="2.00" fill="#9070e0" stroke="#7090f0" stroke-width="0.9"/>
<polygon points="484.00,116.55 485.50,119.30 484.00,122.05 482.50,119.30" fill="none" stroke="#f08020" stroke-width="1.0"/>
<polygon points="551.00,114.65 552.50,117.40 551.00,120.15 549.50,117.40" fill="#3b1a8c" stroke="#2a5ad7" stroke-width="0.9"/>
<polygon points="497.50,118.75 499.00,121.50 497.50,124.25 496.00,121.50" fill="#c8c080" stroke="#50b030" stroke-width="0.9"/>
<polygon points="498.75,121.35 502.85,121.35 500.80,125.45" fill="none" stroke="#f070f0" stroke-width="1.0" stroke-linejoin="round"/>
<polygon points="505.45,121.85 509.55,121.85 507.50,125.95" fill="#80a020" stroke="#f04010" stroke-width="0.9" stroke-linejoin="round"/>
<polygon points="499.50,127.15 501.00,129.90 499.50,132.65 498.00,129.90" fill="none" stroke="#905030" stroke-width="1.0"/>
<polygon points="501.05,128.85 505.15,128.85 503.10,132.95" fill="#40c0c0" stroke="#40f080" stroke-width="0.9" stroke-linejoin="round"/>
<polygon points="506.45,129.35 510.55,129.35 508.50,133.45" fill="none" stroke="#f05030" stroke-width="1.0" stroke-linejoin="round"/>
<circle cx="470.60" cy="142.20" r="1.90" fill="none" stroke="#f06040" stroke-width="1.15"/>
<polygon points="501.35,136.15 505.45,136.15 503.40,140.25" fill="#d06020" stroke="#9020d0" stroke-width="0.9" stroke-linejoin="round"/>
<polygon points="499.30,138.15 500.80,140.90 499.30,143.65 497.80,140.90" fill="#e040f0" stroke="#40e0f0" stroke-width="0.9"/>
<circle cx="519.20" cy="121.40" r="2.00" fill="#f08020" stroke="#305050" stroke-width="0.9"/>
<circle cx="525.60" cy="121.70" r="2.00" fill="#f02010" stroke="#d0a030" stroke-width="0.9"/>
<polygon points="522.90,120.35 524.40,123.10 522.90,125.85 521.40,123.10" fill="#c0e040" stroke="#60f020" stroke-width="0.9"/>
<circle cx="517.50" cy="130.20" r="1.90" fill="none" stroke="#f0f040" stroke-width="1.15"/>
<polygon points="513.55,133.65 517.65,133.65 515.60,137.75" fill="none" stroke="#50a0a0" stroke-width="1.0" stroke-linejoin="round"/>
<polygon points="521.85,130.05 525.95,130.05 523.90,134.15" fill="none" stroke="#5030a0" stroke-width="1.0" stroke-linejoin="round"/>
<circle cx="520.80" cy="136.80" r="1.90" fill="none" stroke="#9030c0" stroke-width="1.15"/>
<polygon points="522.55,134.85 526.65,134.85 524.60,138.95" fill="#d040c0" stroke="#80f0f0" stroke-width="0.9" stroke-linejoin="round"/>
<polygon points="522.35,139.75 526.45,139.75 524.40,143.85" fill="#8030c0" stroke="#e08020" stroke-width="0.9" stroke-linejoin="round"/>
<polygon points="524.95,139.75 529.05,139.75 527.00,143.85" fill="#3050e0" stroke="#40a0ff" stroke-width="0.9" stroke-linejoin="round"/>
<polygon points="529.85,127.75 533.95,127.75 531.90,131.85" fill="#e040e0" stroke="#60f020" stroke-width="0.9" stroke-linejoin="round"/>
<circle cx="533.30" cy="134.90" r="2.00" fill="#2040e0" stroke="#8040e0" stroke-width="0.9"/>
<circle cx="545.40" cy="131.60" r="1.90" fill="none" stroke="#60c0f0" stroke-width="1.15"/>
<polygon points="539.25,133.15 543.35,133.15 541.30,137.25" fill="none" stroke="#40f040" stroke-width="1.0" stroke-linejoin="round"/>
<polygon points="543.20,136.85 544.70,139.60 543.20,142.35 541.70,139.60" fill="none" stroke="#40d0d0" stroke-width="1.0"/>
<polygon points="551.90,135.45 553.40,138.20 551.90,140.95 550.40,138.20" fill="none" stroke="#e060e0" stroke-width="1.0"/>
<circle cx="547.70" cy="142.00" r="2.00" fill="#60f020" stroke="#e0e040" stroke-width="0.9"/>
<polygon points="538.00,139.95 539.50,142.70 538.00,145.45 536.50,142.70" fill="#ff60c0" stroke="#f070e0" stroke-width="0.9"/>
<polygon points="543.20,142.55 544.70,145.30 543.20,148.05 541.70,145.30" fill="none" stroke="#f02020" stroke-width="1.0"/>
<circle cx="538.60" cy="147.00" r="1.90" fill="none" stroke="#40f040" stroke-width="1.15"/>
<circle cx="559.50" cy="127.80" r="2.00" fill="#e02020" stroke="#b03020" stroke-width="0.9"/>
<circle cx="567.20" cy="129.90" r="2.00" fill="#e060e0" stroke="#a070f0" stroke-width="0.9"/>
<circle cx="610.70" cy="112.50" r="1.90" fill="none" stroke="#d0a040" stroke-width="1.15"/>
<circle cx="584.20" cy="120.30" r="1.90" fill="none" stroke="#f0a050" stroke-width="1.15"/>
<polygon points="585.45,119.65 589.55,119.65 587.50,123.75" fill="#d040c0" stroke="#80f0f0" stroke-width="0.9" stroke-linejoin="round"/>
<polygon points="580.00,125.55 581.50,128.30 580.00,131.05 578.50,128.30" fill="#2f6060" stroke="#f08030" stroke-width="0.9"/>
<polygon points="572.10,130.55 573.60,133.30 572.10,136.05 570.60,133.30" fill="#2e8b57" stroke="#8b4513" stroke-width="0.9"/>
<polygon points="585.70,130.25 587.20,133.00 585.70,135.75 584.20,133.00" fill="#8b3020" stroke="#e02020" stroke-width="0.9"/>
<polygon points="585.40,134.95 586.90,137.70 585.40,140.45 583.90,137.70" fill="#c0e040" stroke="#60f020" stroke-width="0.9"/>
<polygon points="568.45,139.75 572.55,139.75 570.50,143.85" fill="#60e020" stroke="#f0e020" stroke-width="0.9" stroke-linejoin="round"/>
<circle cx="579.00" cy="140.10" r="1.90" fill="none" stroke="#f070e0" stroke-width="1.15"/>
<polygon points="574.05,142.55 578.15,142.55 576.10,146.65" fill="#9060d0" stroke="#8040f0" stroke-width="0.9" stroke-linejoin="round"/>
<polygon points="576.90,139.75 578.40,142.50 576.90,145.25 575.40,142.50" fill="#e05030" stroke="#808080" stroke-width="0.9"/>
<circle cx="583.20" cy="147.20" r="2.00" fill="#40d0d0" stroke="#f050f0" stroke-width="0.9"/>
<circle cx="565.60" cy="147.60" r="2.00" fill="#301090" stroke="#30c0c0" stroke-width="0.9"/>
<circle cx="562.00" cy="150.30" r="2.00" fill="#40b040" stroke="#a0d040" stroke-width="0.9"/>
<polygon points="561.30,151.45 562.80,154.20 561.30,156.95 559.80,154.20" fill="#f05020" stroke="#f0c020" stroke-width="0.9"/>
<circle cx="555.10" cy="153.80" r="2.00" fill="#a05030" stroke="#40a040" stroke-width="0.9"/>
<circle cx="566.00" cy="155.30" r="1.90" fill="none" stroke="#60e0e0" stroke-width="1.15"/>
<polygon points="547.95,156.25 552.05,156.25 550.00,160.35" fill="#309090" stroke="#60e0c0" stroke-width="0.9" stroke-linejoin="round"/>
<circle cx="572.80" cy="158.50" r="2.00" fill="#f0c030" stroke="#f06020" stroke-width="0.9"/>
<polygon points="570.35,162.45 574.45,162.45 572.40,166.55" fill="none" stroke="#e0d020" stroke-width="1.0" stroke-linejoin="round"/>
<polygon points="545.90,159.05 547.40,161.80 545.90,164.55 544.40,161.80" fill="none" stroke="#a0b020" stroke-width="1.0"/>
<circle cx="496.30" cy="149.20" r="1.90" fill="none" stroke="#60f0c0" stroke-width="1.15"/>
<polygon points="497.15,148.65 501.25,148.65 499.20,152.75" fill="#60e020" stroke="#f0e020" stroke-width="0.9" stroke-linejoin="round"/>
<circle cx="504.80" cy="150.10" r="2.00" fill="#f070d0" stroke="#f060e0" stroke-width="0.9"/>
<circle cx="489.20" cy="155.30" r="1.90" fill="none" stroke="#a0f040" stroke-width="1.15"/>
<circle cx="518.00" cy="149.00" r="2.00" fill="#a0a040" stroke="#a040f0" stroke-width="0.9"/>
<polygon points="518.65,151.15 522.75,151.15 520.70,155.25" fill="none" stroke="#4080e0" stroke-width="1.0" stroke-linejoin="round"/>
<polygon points="527.75,151.15 531.85,151.15 529.80,155.25" fill="none" stroke="#80f0f0" stroke-width="1.0" stroke-linejoin="round"/>
<circle cx="528.90" cy="155.30" r="1.90" fill="none" stroke="#40f040" stroke-width="1.15"/>
<circle cx="504.30" cy="160.00" r="1.90" fill="none" stroke="#f040a0" stroke-width="1.15"/>
<polygon points="507.50,161.05 509.00,163.80 507.50,166.55 506.00,163.80" fill="none" stroke="#e02020" stroke-width="1.0"/>
<polygon points="510.50,156.95 512.00,159.70 510.50,162.45 509.00,159.70" fill="#7060f0" stroke="#e070f0" stroke-width="0.9"/>
<polygon points="511.25,162.95 515.35,162.95 513.30,167.05" fill="none" stroke="#8020e0" stroke-width="1.0" stroke-linejoin="round"/>
<polygon points="513.65,164.35 517.75,164.35 515.70,168.45" fill="#d8ecff" stroke="#e060d0" stroke-width="0.9" stroke-linejoin="round"/>
<polygon points="521.15,159.65 525.25,159.65 523.20,163.75" fill="none" stroke="#f070f0" stroke-width="1.0" stroke-linejoin="round"/>
<polygon points="519.25,165.35 523.35,165.35 521.30,169.45" fill="none" stroke="#50f080" stroke-width="1.0" stroke-linejoin="round"/>
<rect x="524.50" y="167.70" width="3.40" height="3.40" fill="none" stroke="#000" stroke-width="1"/>
<rect x="536.50" y="159.40" width="4.00" height="4.00" fill="#000"/>
<polygon points="541.50,156.95 543.00,159.70 541.50,162.45 540.00,159.70" fill="none" stroke="#2040f0" stroke-width="1.0"/>
<polygon points="527.85,172.05 531.95,172.05 529.90,176.15" fill="#40c0c0" stroke="#80d0f0" stroke-width="0.9" stroke-linejoin="round"/>
<polygon points="264.00,279.05 265.50,281.80 264.00,284.55 262.50,281.80" fill="#40d0d0" stroke="#5030a0" stroke-width="0.9"/>
<polygon points="222.20,292.65 223.70,295.40 222.20,298.15 220.70,295.40" fill="none" stroke="#f08020" stroke-width="1.0"/>
<circle cx="209.90" cy="314.10" r="2.00" fill="#9070e0" stroke="#7090f0" stroke-width="0.9"/>
<polygon points="210.40,315.05 211.90,317.80 210.40,320.55 208.90,317.80" fill="#2f6060" stroke="#f08030" stroke-width="0.9"/>
<circle cx="184.40" cy="319.40" r="1.90" fill="none" stroke="#f06040" stroke-width="1.15"/>
<circle cx="203.10" cy="323.20" r="2.00" fill="#a0a040" stroke="#a040f0" stroke-width="0.9"/>
<polygon points="190.65,324.25 194.75,324.25 192.70,328.35" fill="none" stroke="#8020e0" stroke-width="1.0" stroke-linejoin="round"/>
<circle cx="215.40" cy="330.10" r="1.90" fill="none" stroke="#9040e0" stroke-width="1.15"/>
<polygon points="236.40,323.25 237.90,326.00 236.40,328.75 234.90,326.00" fill="#d08020" stroke="#f05050" stroke-width="0.9"/>
<polygon points="239.55,331.95 243.65,331.95 241.60,336.05" fill="none" stroke="#f040f0" stroke-width="1.0" stroke-linejoin="round"/>
<circle cx="201.20" cy="334.00" r="2.00" fill="#f08020" stroke="#305050" stroke-width="0.9"/>
<polygon points="203.10,333.15 204.60,335.90 203.10,338.65 201.60,335.90" fill="#9020f0" stroke="#c8c800" stroke-width="0.9"/>
<polygon points="205.75,334.65 209.85,334.65 207.80,338.75" fill="#60e020" stroke="#f0e020" stroke-width="0.9" stroke-linejoin="round"/>
<circle cx="148.10" cy="344.90" r="1.90" fill="none" stroke="#f0a050" stroke-width="1.15"/>
<circle cx="144.30" cy="360.30" r="1.90" fill="none" stroke="#9030c0" stroke-width="1.15"/>
<circle cx="146.20" cy="370.40" r="1.90" fill="none" stroke="#a0f040" stroke-width="1.15"/>
<polygon points="158.65,362.95 162.75,362.95 160.70,367.05" fill="#e04020" stroke="#60e020" stroke-width="0.9" stroke-linejoin="round"/>
<polygon points="168.70,362.25 170.20,365.00 168.70,367.75 167.20,365.00" fill="none" stroke="#2040f0" stroke-width="1.0"/>
<circle cx="172.90" cy="350.80" r="2.00" fill="#e060e0" stroke="#a070f0" stroke-width="0.9"/>
<circle cx="175.80" cy="353.10" r="2.00" fill="#3060d0" stroke="#4020a0" stroke-width="0.9"/>
<polygon points="177.75,348.85 181.85,348.85 179.80,352.95" fill="none" stroke="#40f040" stroke-width="1.0" stroke-linejoin="round"/>
<polygon points="182.65,344.55 186.75,344.55 184.70,348.65" fill="none" stroke="#e0d020" stroke-width="1.0" stroke-linejoin="round"/>
<polygon points="183.60,351.55 185.10,354.30 183.60,357.05 182.10,354.30" fill="none" stroke="#e060e0" stroke-width="1.0"/>
<polygon points="184.25,354.35 188.35,354.35 186.30,358.45" fill="#80a040" stroke="#f060f0" stroke-width="0.9" stroke-linejoin="round"/>
<polygon points="188.75,354.25 192.85,354.25 190.80,358.35" fill="none" stroke="#50a0a0" stroke-width="1.0" stroke-linejoin="round"/>
<polygon points="181.90,360.25 183.40,363.00 181.90,365.75 180.40,363.00" fill="#7060f0" stroke="#e070f0" stroke-width="0.9"/>
<polygon points="179.85,363.25 183.95,363.25 181.90,367.35" fill="none" stroke="#f040f0" stroke-width="1.0" stroke-linejoin="round"/>
<polygon points="199.25,346.15 203.35,346.15 201.30,350.25" fill="#309090" stroke="#60e0c0" stroke-width="0.9" stroke-linejoin="round"/>
<polygon points="202.85,344.75 206.95,344.75 204.90,348.85" fill="none" stroke="#4080e0" stroke-width="1.0" stroke-linejoin="round"/>
<polygon points="204.95,343.35 209.05,343.35 207.00,347.45" fill="none" stroke="#f070f0" stroke-width="1.0" stroke-linejoin="round"/>
<polygon points="207.45,344.75 211.55,344.75 209.50,348.85" fill="none" stroke="#80f0f0" stroke-width="1.0" stroke-linejoin="round"/>
<polygon points="197.40,347.95 198.90,350.70 197.40,353.45 195.90,350.70" fill="none" stroke="#905030" stroke-width="1.0"/>
<polygon points="208.15,348.65 212.25,348.65 210.20,352.75" fill="none" stroke="#f05030" stroke-width="1.0" stroke-linejoin="round"/>
<polygon points="214.10,347.65 215.60,350.40 214.10,353.15 212.60,350.40" fill="none" stroke="#606060" stroke-width="1.0"/>
<circle cx="206.30" cy="354.60" r="2.00" fill="#2040e0" stroke="#8040e0" stroke-width="0.9"/>
<polygon points="213.40,352.95 214.90,355.70 213.40,358.45 211.90,355.70" fill="#8020b0" stroke="#3040f0" stroke-width="0.9"/>
<polygon points="217.65,355.75 221.75,355.75 219.70,359.85" fill="#3050e0" stroke="#40a0ff" stroke-width="0.9" stroke-linejoin="round"/>
<circle cx="199.60" cy="355.30" r="1.90" fill="none" stroke="#80f040" stroke-width="1.15"/>
<polygon points="199.95,355.75 204.05,355.75 202.00,359.85" fill="#e04020" stroke="#60e020" stroke-width="0.9" stroke-linejoin="round"/>
<polygon points="204.50,355.75 206.00,358.50 204.50,361.25 203.00,358.50" fill="none" stroke="#30b030" stroke-width="1.0"/>
<circle cx="205.50" cy="357.00" r="2.00" fill="#f02010" stroke="#d0a030" stroke-width="0.9"/>
<circle cx="208.10" cy="358.50" r="2.00" fill="#e02020" stroke="#b03020" stroke-width="0.9"/>
<circle cx="199.20" cy="363.10" r="1.90" fill="none" stroke="#60f0c0" stroke-width="1.15"/>
<circle cx="202.40" cy="365.60" r="2.00" fill="#707080" stroke="#f08070" stroke-width="0.9"/>
<polygon points="207.00,365.25 208.50,368.00 207.00,370.75 205.50,368.00" fill="#2e8b57" stroke="#8b4513" stroke-width="0.9"/>
<polygon points="209.50,365.25 211.00,368.00 209.50,370.75 208.00,368.00" fill="#c8c080" stroke="#50b030" stroke-width="0.9"/>
<polygon points="212.70,365.65 214.20,368.40 212.70,371.15 211.20,368.40" fill="none" stroke="#40d0d0" stroke-width="1.0"/>
<polygon points="224.60,364.05 226.10,366.80 224.60,369.55 223.10,366.80" fill="#8b3020" stroke="#e02020" stroke-width="0.9"/>
<polygon points="188.05,365.25 192.15,365.25 190.10,369.35" fill="none" stroke="#e0d020" stroke-width="1.0" stroke-linejoin="round"/>
<polygon points="194.30,362.35 195.80,365.10 194.30,367.85 192.80,365.10" fill="#2e8b57" stroke="#8b4513" stroke-width="0.9"/>
<circle cx="193.60" cy="369.30" r="1.90" fill="none" stroke="#f0f040" stroke-width="1.15"/>
<circle cx="195.80" cy="372.60" r="1.90" fill="none" stroke="#f0f040" stroke-width="1.15"/>
<circle cx="177.60" cy="370.80" r="1.90" fill="none" stroke="#f040a0" stroke-width="1.15"/>
<circle cx="174.60" cy="374.40" r="2.00" fill="#a05030" stroke="#40a040" stroke-width="0.9"/>
<polygon points="170.45,374.05 174.55,374.05 172.50,378.15" fill="#40c0c0" stroke="#80d0f0" stroke-width="0.9" stroke-linejoin="round"/>
<circle cx="180.70" cy="375.80" r="1.90" fill="none" stroke="#40f040" stroke-width="1.15"/>
<circle cx="183.80" cy="373.50" r="2.00" fill="#f0c030" stroke="#f06020" stroke-width="0.9"/>
<polygon points="190.15,371.05 194.25,371.05 192.20,375.15" fill="none" stroke="#5030a0" stroke-width="1.0" stroke-linejoin="round"/>
<polygon points="192.25,374.25 196.35,374.25 194.30,378.35" fill="#d06020" stroke="#9020d0" stroke-width="0.9" stroke-linejoin="round"/>
<polygon points="189.10,374.75 190.60,377.50 189.10,380.25 187.60,377.50" fill="#c0e040" stroke="#60f020" stroke-width="0.9"/>
<polygon points="194.55,377.05 198.65,377.05 196.60,381.15" fill="#60e020" stroke="#f0e020" stroke-width="0.9" stroke-linejoin="round"/>
<circle cx="202.70" cy="377.70" r="1.90" fill="none" stroke="#60e0e0" stroke-width="1.15"/>
<polygon points="207.40,372.85 208.90,375.60 207.40,378.35 205.90,375.60" fill="#e040f0" stroke="#40e0f0" stroke-width="0.9"/>
<circle cx="205.40" cy="381.20" r="2.00" fill="#60f020" stroke="#e0e040" stroke-width="0.9"/>
<circle cx="205.90" cy="385.30" r="2.00" fill="#301090" stroke="#30c0c0" stroke-width="0.9"/>
<polygon points="199.15,385.45 203.25,385.45 201.20,389.55" fill="#9060d0" stroke="#8040f0" stroke-width="0.9" stroke-linejoin="round"/>
<circle cx="204.50" cy="391.90" r="1.90" fill="none" stroke="#f070e0" stroke-width="1.15"/>
<polygon points="180.00,378.25 181.50,381.00 180.00,383.75 178.50,381.00" fill="#f05020" stroke="#f0c020" stroke-width="0.9"/>
<polygon points="174.80,382.05 176.30,384.80 174.80,387.55 173.30,384.80" fill="#e05030" stroke="#808080" stroke-width="0.9"/>
<polygon points="183.10,380.35 184.60,383.10 183.10,385.85 181.60,383.10" fill="#3b1a8c" stroke="#2a5ad7" stroke-width="0.9"/>
<polygon points="183.15,385.45 187.25,385.45 185.20,389.55" fill="none" stroke="#50a0a0" stroke-width="1.0" stroke-linejoin="round"/>
<circle cx="188.00" cy="382.00" r="1.90" fill="none" stroke="#60c0f0" stroke-width="1.15"/>
<polygon points="185.95,383.25 190.05,383.25 188.00,387.35" fill="#80a020" stroke="#f04010" stroke-width="0.9" stroke-linejoin="round"/>
<rect x="190.40" y="381.90" width="3.40" height="3.40" fill="none" stroke="#000" stroke-width="1"/>
<rect x="196.60" y="381.40" width="4.00" height="4.00" fill="#000"/>
<polygon points="179.30,389.15 180.80,391.90 179.30,394.65 177.80,391.90" fill="none" stroke="#9060e0" stroke-width="1.0"/>
<circle cx="162.50" cy="382.00" r="2.00" fill="#40d0d0" stroke="#f050f0" stroke-width="0.9"/>
</svg></body></html>
